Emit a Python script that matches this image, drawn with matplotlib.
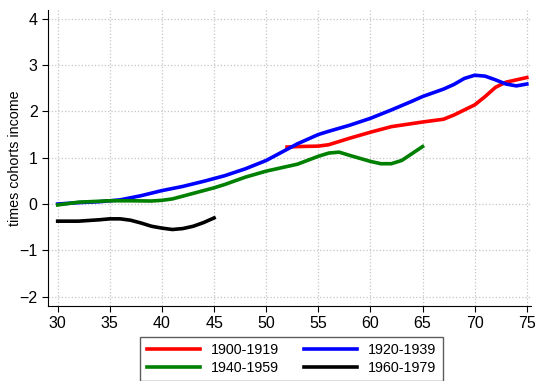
import matplotlib.pyplot as plt

plt.rcParams['font.family'] = ['Liberation Sans', 'DejaVu Sans']

# Data (age vs. times cohort income)
age_1900 = [52, 53, 55, 56, 58, 60, 62, 65, 67, 68, 70, 71, 72, 73, 74, 75]
val_1900 = [1.23, 1.24, 1.25, 1.28, 1.42, 1.55, 1.67, 1.77, 1.83, 1.92, 2.14, 2.32, 2.52, 2.63, 2.68, 2.73]

age_1920 = [30, 32, 34, 35, 36, 38, 40, 42, 44, 45, 46, 48, 50, 52, 53, 55, 56, 58, 60, 62,
            64, 65, 67, 68, 69, 70, 71, 72, 73, 74, 75]
val_1920 = [0.0, 0.03, 0.05, 0.07, 0.09, 0.18, 0.29, 0.38, 0.49, 0.55, 0.61, 0.76, 0.94, 1.18, 1.3,
            1.5, 1.57, 1.7, 1.85, 2.03, 2.22, 2.32, 2.48, 2.58, 2.71, 2.78, 2.76, 2.68, 2.59, 2.55, 2.59]

age_1940 = [30, 32, 35, 37, 39, 40, 41, 42, 44, 45, 46, 48, 50, 53, 55, 56, 57, 58, 60, 61,
            62, 63, 64, 65]
val_1940 = [-0.02, 0.04, 0.07, 0.07, 0.065, 0.08, 0.11, 0.17, 0.29, 0.35, 0.42, 0.58, 0.71, 0.86,
            1.03, 1.1, 1.12, 1.05, 0.92, 0.87, 0.87, 0.94, 1.09, 1.24]

age_1960 = [30, 32, 34, 35, 36, 37, 38, 39, 40, 41, 42, 43, 44, 45]
val_1960 = [-0.37, -0.37, -0.34, -0.32, -0.32, -0.35, -0.41, -0.48, -0.52, -0.55, -0.53, -0.48, -0.40, -0.30]

fig = plt.figure(figsize=(5.35, 3.81), dpi=100)
ax = fig.add_axes([0.0897, 0.197, 0.903, 0.777])

lw = 2.6
l1, = ax.plot(age_1900, val_1900, color='red', lw=lw, label='1900-1919')
l2, = ax.plot(age_1920, val_1920, color='blue', lw=lw, label='1920-1939')
l3, = ax.plot(age_1940, val_1940, color='green', lw=lw, label='1940-1959')
l4, = ax.plot(age_1960, val_1960, color='black', lw=lw, label='1960-1979')

ax.set_xlim(29.07, 75.41)
ax.set_ylim(-2.2, 4.19)
ax.set_xticks(range(30, 76, 5))
ax.set_yticks(range(-2, 5))
ax.tick_params(labelsize=11.5, direction='out', length=4, color='black')
ax.grid(True, linestyle=':', color='#c4c4c4', linewidth=0.9)
ax.set_axisbelow(True)
for s in ['top', 'right']:
    ax.spines[s].set_visible(False)
ax.set_ylabel('times cohorts income', fontsize=10.3)
ax.yaxis.set_label_coords(-0.053, 0.5)

# row-major order like the reference: 1900 | 1920 / 1940 | 1960
fig.legend([l1, l3, l2, l4], ['1900-1919', '1940-1959', '1920-1939', '1960-1979'],
           ncol=2, loc='lower center', bbox_to_anchor=(0.545, -0.02),
           fontsize=10.3, frameon=True, fancybox=False, edgecolor='#333333',
           handlelength=3.7, columnspacing=1.7, borderpad=0.45, labelspacing=0.25)

fig.savefig('out.png', dpi=100)
